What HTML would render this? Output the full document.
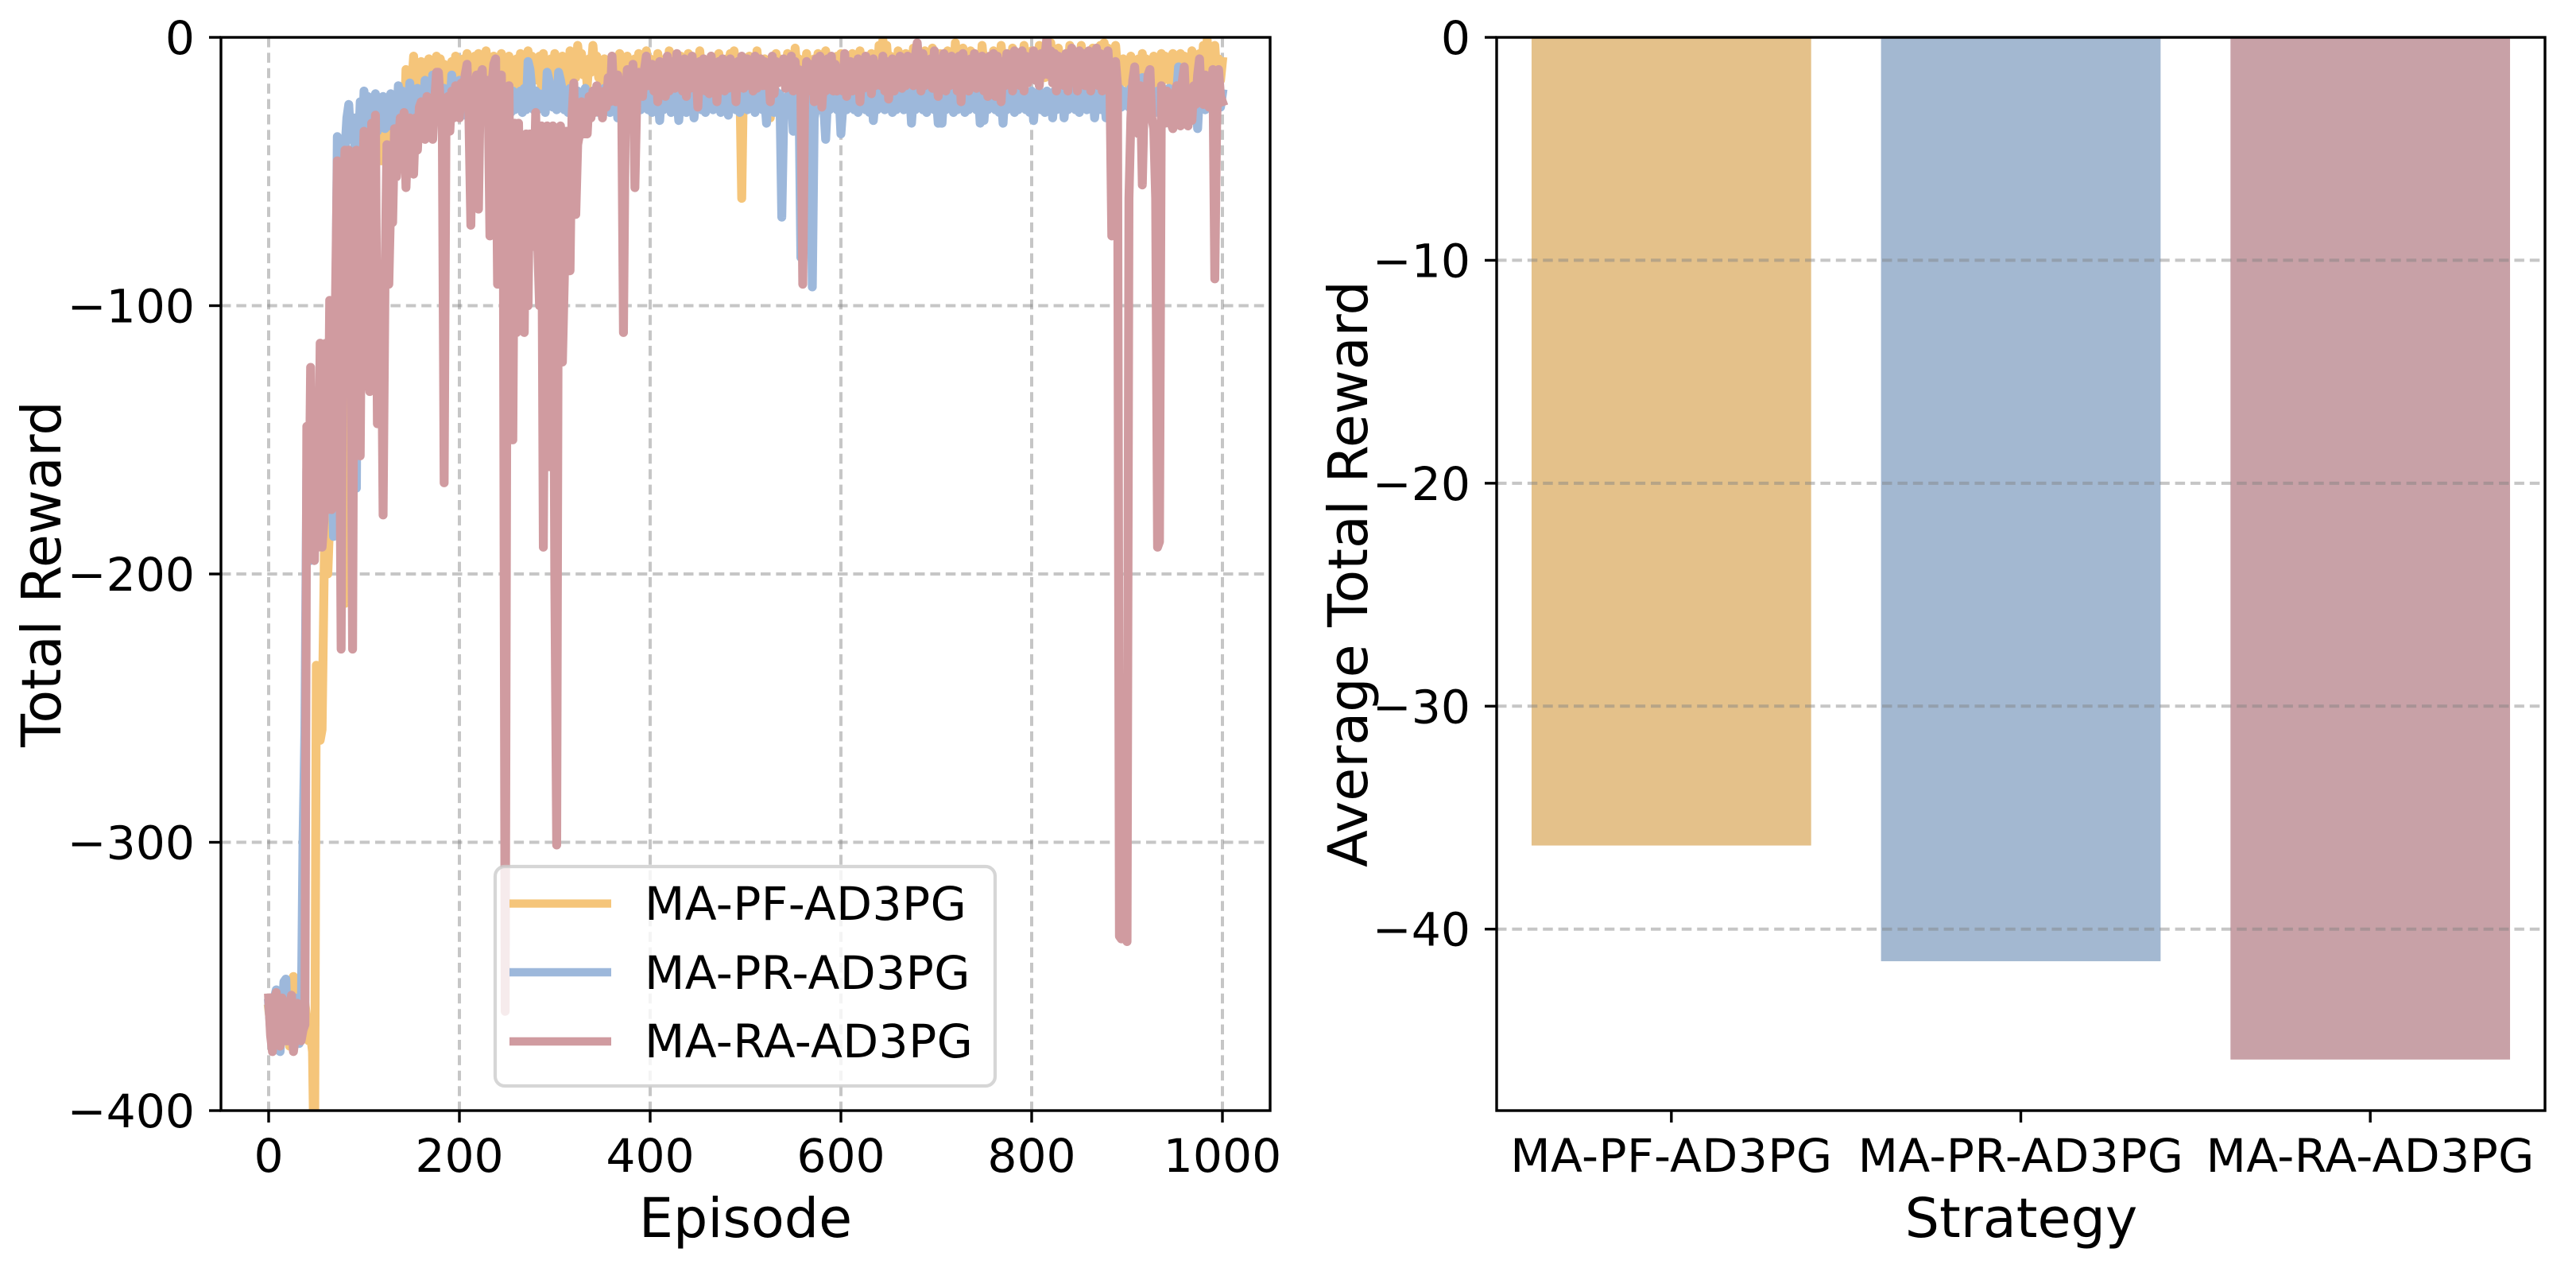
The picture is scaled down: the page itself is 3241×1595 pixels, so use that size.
<!DOCTYPE html>
<html lang="en">
<head>
<meta charset="utf-8">
<title>Total reward and average total reward by strategy</title>
<style>
html,body{margin:0;padding:0;background:#fff;}
svg{display:block;}
text{font-family:"DejaVu Sans","Liberation Sans",sans-serif;fill:#000;}
.tick{font-size:58.33px;}
.wide{letter-spacing:0.4px;}
.label{font-size:68.3px;}
</style>
</head>
<body>
<svg id="figure" xmlns="http://www.w3.org/2000/svg" width="3241" height="1595" viewBox="0 0 3241 1595">
  <defs>
    <clipPath id="clip-left"><rect x="278" y="47" width="1320" height="1350"/></clipPath>
  </defs>
  <rect x="0" y="0" width="3241" height="1595" fill="#fff"/>

  <g id="left-grid"></g>
  <g id="left-series" clip-path="url(#clip-left)"></g>
  <g id="left-ticks"></g>
  <rect x="278" y="47" width="1320" height="1350" fill="none" stroke="#000" stroke-width="3.4"/>
  <text class="label" x="938" y="1556" text-anchor="middle">Episode</text>
  <text class="label" x="0" y="0" text-anchor="middle" transform="translate(76 722) rotate(-90)">Total Reward</text>

  <g>
    <rect x="623" y="1090" width="629" height="276" rx="12" ry="12" fill="#fff" fill-opacity="0.8" stroke="#ccc" stroke-opacity="0.8" stroke-width="4.2"/>
    <line x1="641" x2="769" y1="1136.6" y2="1136.6" stroke="#F5C57A" stroke-width="10.4"/>
    <text class="tick wide" x="811" y="1157">MA-PF-AD3PG</text>
    <line x1="641" x2="769" y1="1223" y2="1223" stroke="#9DB8DB" stroke-width="10.4"/>
    <text class="tick wide" x="811" y="1244">MA-PR-AD3PG</text>
    <line x1="641" x2="769" y1="1310" y2="1310" stroke="#D09BA0" stroke-width="10.4"/>
    <text class="tick wide" x="811" y="1330">MA-RA-AD3PG</text>
  </g>

  <g id="right-bars"></g>
  <g id="right-grid"></g>
  <g id="right-ticks"></g>
  <rect x="1883" y="47" width="1319" height="1350" fill="none" stroke="#000" stroke-width="3.4"/>
  <text class="label" x="2543" y="1556" text-anchor="middle">Strategy</text>
  <text class="label" x="0" y="0" text-anchor="middle" transform="translate(1720 722) rotate(-90)">Average Total Reward</text>
</svg>

<script>
// Episode sampling for the reward curves: one value every 2 episodes.
const sampleStep = 2;
const episodeTicks = [0, 200, 400, 600, 800, 1000];
const rewardTicks = [0, -100, -200, -300, -400];
const averageTicks = [0, -10, -20, -30, -40];
const strategies = ['MA-PF-AD3PG', 'MA-PR-AD3PG', 'MA-RA-AD3PG'];
const averageRewards = [-36.25, -41.44, -45.85];

const pfRewards = [
-362,-368,-374,-358,-366,-376,-360,-356,-364,-372,-370,-376,-368,-350,-352,-363,-361,-372,-368,-360,
-366,-374,-372,-378,-430,-234,-236,-262,-258,-205,-150,-200,-180,-140,-170,-125,-165,-140,-110,-150,
-211,-80,-60,-130,-50,-110,-42,-90,-38,-70,-32,-55,-38,-50,-36,-48,-40,-45,-38,-46,
-34,-46,-38,-44,-32,-42,-30,-40,-34,-38,-28,-36,-12,-20,-14,-18,-7,-17,-12,-18,
-9,-17,-11,-15,-8,-16,-9,-18,-7,-15,-8,-17,-10,-16,-11,-18,-9,-15,-7,-14,
-10,-16,-8,-18,-6,-15,-9,-17,-7,-14,-6,-16,-10,-15,-5,-18,-9,-16,-7,-14,
-8,-17,-6,-15,-10,-18,-7,-16,-9,-20,-8,-15,-6,-17,-9,-14,-5,-18,-7,-15,
-10,-16,-7,-19,-6,-14,-9,-17,-8,-15,-6,-18,-10,-16,-7,-14,-9,-17,-5,-15,
-8,-15,-3,-10,-6,-14,-9,-18,-8,-13,-3,-12,-7,-15,-9,-20,-8,-17,-12,-19,
-7,-16,-9,-18,-6,-14,-9,-15,-7,-17,-10,-19,-8,-16,-6,-14,-9,-17,-5,-13,
-8,-16,-10,-15,-6,-14,-11,-18,-8,-15,-5,-13,-9,-17,-11,-14,-7,-16,-9,-15,
-6,-17,-8,-14,-10,-16,-5,-13,-8,-15,-11,-18,-7,-14,-9,-16,-6,-14,-10,-15,
-8,-17,-6,-13,-5,-14,-10,-16,-60,-12,-8,-15,-7,-17,-9,-14,-5,-13,-8,-16,
-8,-14,-10,-30,-9,-15,-6,-13,-8,-16,-10,-15,-6,-14,-9,-17,-4,-12,-8,-15,
-10,-17,-6,-13,-9,-15,-8,-18,-6,-14,-9,-16,-5,-13,-8,-15,-10,-16,-7,-14,
-6,-13,-9,-16,-7,-18,-6,-14,-9,-15,-5,-13,-8,-16,-10,-15,-6,-13,-9,-16,
-3,-10,-1,-8,-3,-13,-7,-15,-9,-14,-5,-12,-8,-15,-6,-13,-9,-15,-4,-12,
-7,-15,-10,-16,-5,-13,-8,-15,-4,-12,-9,-16,-6,-14,-8,-15,-5,-13,-9,-15,
-2,-11,-7,-15,-4,-12,-8,-14,-5,-15,-6,-13,-8,-15,-3,-11,-7,-13,-9,-16,
-5,-12,-8,-14,-3,-11,-6,-13,-9,-15,-4,-12,-8,-14,-6,-13,-3,-10,-8,-15,
-5,-12,-7,-14,-3,-11,-8,-15,-5,-13,-2,-10,-7,-14,-4,-12,-9,-15,-6,-13,
-3,-12,-5,-13,-7,-14,-3,-11,-8,-15,-6,-13,-4,-12,-7,-14,-3,-10,-2,-9,
-4,-11,-7,-14,-3,-12,-9,-17,-8,-15,-10,-18,-7,-14,-9,-16,-8,-15,-6,-17,
-8,-18,-10,-17,-7,-15,-9,-19,-6,-16,-7,-14,-9,-17,-6,-15,-8,-18,-6,-14,
-7,-16,-8,-18,-5,-13,-7,-15,-6,-14,-3,-10,-1,-12,-7,-15,-3,-14,-8,-16,
-9];

const prRewards = [
-360,-370,-376,-358,-355,-368,-378,-364,-352,-351,-372,-360,-366,-374,-358,-360,-375,-373,-300,-258,
-161,-175,-195,-170,-180,-150,-135,-170,-150,-140,-130,-140,-125,-150,-186,-120,-37,-70,-50,-40,
-42,-30,-25,-38,-36,-30,-168,-44,-24,-40,-20,-36,-22,-38,-26,-34,-21,-35,-24,-33,
-22,-34,-24,-33,-21,-32,-26,-34,-18,-30,-20,-32,-23,-33,-17,-28,-22,-31,-19,-29,
-24,-30,-16,-28,-22,-31,-14,-26,-20,-30,-24,-28,-19,-30,-22,-27,-14,-25,-20,-29,
-16,-26,-21,-29,-18,-27,-22,-28,-16,-26,-20,-29,-18,-27,-21,-28,-16,-26,-22,-29,
-20,-27,-22,-28,-19,-26,-21,-28,-20,-27,-22,-26,-20,-28,-19,-27,-9,-12,-20,-27,
-20,-27,-21,-26,-22,-28,-13,-16,-20,-26,-21,-27,-13,-16,-20,-27,-21,-28,-19,-26,
-21,-27,-20,-26,-22,-28,-19,-27,-21,-26,-20,-27,-22,-28,-20,-26,-19,-27,-21,-28,
-20,-26,-22,-30,-21,-27,-20,-26,-22,-28,-21,-27,-20,-26,-22,-27,-19,-26,-21,-27,
-22,-28,-20,-26,-21,-31,-20,-27,-22,-26,-21,-28,-20,-27,-22,-31,-20,-26,-21,-28,
-20,-27,-22,-30,-21,-26,-20,-27,-22,-28,-20,-26,-21,-27,-19,-26,-22,-28,-20,-27,
-21,-29,-20,-26,-22,-27,-21,-28,-20,-26,-21,-27,-20,-26,-21,-28,-13,-16,-20,-27,
-22,-32,-20,-27,-22,-28,-20,-26,-21,-67,-30,-28,-22,-26,-21,-35,-22,-27,-21,-82,
-30,-22,-28,-21,-27,-93,-30,-26,-22,-27,-21,-26,-38,-23,-27,-21,-26,-22,-27,-21,
-36,-26,-22,-27,-21,-26,-20,-27,-22,-28,-21,-26,-20,-27,-22,-28,-21,-31,-22,-27,
-20,-26,-21,-27,-20,-26,-22,-28,-19,-27,-21,-26,-20,-27,-21,-26,-20,-32,-21,-27,
-20,-26,-22,-27,-21,-28,-20,-26,-21,-27,-22,-32,-21,-32,-20,-27,-21,-26,-20,-28,
-20,-27,-21,-26,-22,-28,-20,-27,-21,-26,-22,-27,-20,-32,-21,-31,-20,-27,-21,-26,
-20,-27,-22,-28,-21,-32,-20,-27,-21,-26,-20,-28,-21,-27,-20,-26,-21,-27,-22,-28,
-20,-31,-21,-26,-20,-27,-21,-28,-20,-26,-21,-30,-20,-27,-21,-26,-20,-30,-21,-27,
-19,-26,-21,-27,-20,-28,-21,-26,-20,-27,-21,-26,-20,-30,-21,-27,-20,-27,-21,-30,
-20,-27,-21,-26,-20,-27,-19,-26,-20,-25,-21,-26,-19,-27,-20,-26,-21,-27,-15,-24,
-20,-27,-21,-26,-22,-28,-20,-26,-21,-27,-20,-26,-19,-25,-20,-27,-21,-11,-14,-25,
-20,-26,-21,-27,-20,-28,-21,-34,-20,-26,-21,-27,-19,-25,-20,-27,-20,-25,-19,-26,
-21];

const raRewards = [
-358,-372,-378,-360,-356,-370,-376,-358,-360,-374,-374,-362,-357,-378,-372,-360,-362,-374,-370,-368,
-145,-190,-123,-190,-195,-150,-190,-114,-190,-180,-114,-176,-98,-176,-150,-100,-46,-110,-228,-70,
-42,-80,-42,-100,-228,-50,-42,-140,-156,-60,-35,-130,-60,-132,-32,-120,-29,-144,-100,-90,
-178,-90,-40,-92,-60,-69,-34,-52,-40,-30,-48,-28,-56,-35,-30,-45,-51,-30,-42,-26,
-24,-36,-38,-22,-32,-25,-38,-24,-13,-13,-24,-28,-166,-26,-22,-35,-20,-30,-18,-28,
-30,-17,-24,-14,-10,-30,-70,-16,-30,-14,-64,-14,-12,-30,-20,-16,-74,-18,-10,-8,
-92,-20,-14,-60,-363,-90,-18,-100,-150,-32,-110,-32,-72,-100,-110,-36,-100,-36,-78,-60,
-28,-76,-100,-33,-190,-60,-33,-160,-100,-33,-200,-301,-40,-33,-121,-90,-35,-70,-87,-30,
-17,-66,-40,-36,-24,-36,-26,-36,-22,-30,-20,-28,-18,-26,-22,-30,-20,-26,-15,-24,
-7,-22,-24,-14,-20,-16,-110,-26,-12,-18,-24,-10,-56,-22,-13,-20,-22,-12,-7,-18,
-18,-10,-20,-12,-24,-9,-18,-11,-22,-7,-20,-14,-9,-19,-6,-16,-11,-20,-8,-22,
-10,-19,-7,-17,-12,-26,-9,-18,-8,-20,-12,-21,-7,-16,-10,-24,-9,-18,-8,-20,
-12,-19,-8,-18,-10,-24,-9,-16,-7,-19,-13,-8,-18,-10,-20,-7,-19,-13,-8,-18,
-9,-18,-12,-24,-7,-21,-9,-17,-10,-15,-8,-19,-11,-17,-7,-20,-9,-18,-12,-20,
-92,-22,-9,-18,-20,-10,-24,-8,-18,-7,-26,-14,-20,-8,-18,-7,-20,-10,-20,-12,
-12,-20,-6,-22,-16,-9,-20,-10,-18,-8,-24,-10,-19,-7,-18,-11,-21,-8,-18,-10,
-10,-18,-7,-20,-9,-23,-13,-8,-20,-10,-17,-7,-19,-9,-18,-7,-16,-10,-18,-7,
-2,-12,-20,-6,-18,-9,-15,-8,-19,-5,-14,-22,-8,-18,-6,-20,-10,-18,-7,-16,
-8,-20,-7,-24,-6,-14,-9,-20,-8,-16,-6,-19,-10,-18,-7,-20,-9,-22,-7,-15,
-6,-22,-7,-15,-24,-9,-18,-6,-14,-8,-20,-5,-16,-8,-18,-5,-20,-7,-17,-8,
-12,-5,-16,-7,-18,-6,-14,-7,0,-14,-5,-17,-6,-20,-7,-16,-8,-18,-6,-20,
-9,-4,-16,-8,-20,-5,-12,-6,-18,-9,-5,-20,-7,-16,-4,-18,-6,-20,-8,-14,
-5,-16,-74,-14,-9,-18,-335,-336,-330,-336,-337,-60,-30,-16,-11,-24,-36,-18,-55,-24,
-28,-14,-12,-30,-34,-60,-190,-188,-18,-30,-32,-20,-24,-32,-34,-22,-18,-30,-33,-16,
-11,-28,-33,-20,-31,-18,-25,-14,-8,-24,-25,-14,-18,-26,-22,-12,-90,-30,-12,-22,
-24];

const NS = 'http://www.w3.org/2000/svg';

// Axis functions, left panel
function xEpisode(e) { return 278 + (e + 50) / 1100 * 1320; }
function yReward(v) { return 47 + (-v) / 400 * 1350; }
// Axis functions, right panel
function xStrategy(i) { return 1883 + (i + 0.5) / 3 * 1319; }
function yAverage(v) { return 47 + (-v) / 48.14 * 1350; }

function make(tag, parentId, attrs) {
  const el = document.createElementNS(NS, tag);
  for (const k in attrs) el.setAttribute(k, attrs[k]);
  document.getElementById(parentId).appendChild(el);
  return el;
}

const gridStyle = { stroke: 'rgba(128,128,128,0.45)', 'stroke-width': 4, 'stroke-dasharray': '12.5 6.9' };

// Left panel grid and ticks
episodeTicks.forEach(function (e) {
  const x = xEpisode(e);
  const g = make('line', 'left-grid', Object.assign({ x1: x, x2: x, y1: 47, y2: 1397 }, gridStyle));
  
  
  const t = make('line', 'left-ticks', { x1: x, x2: x, y1: 1397, y2: 1412, stroke: '#000', 'stroke-width': 3.4 });
  
  
  const l = make('text', 'left-ticks', { x: x, y: 1474, 'text-anchor': 'middle', class: 'tick' });
  l.textContent = String(e);
  
  
});
rewardTicks.forEach(function (v) {
  const y = yReward(v);
  if (v !== 0 && v !== -400) {
    const g = make('line', 'left-grid', Object.assign({ x1: 278, x2: 1598, y1: y, y2: y }, gridStyle));
    
    
  }
  const t = make('line', 'left-ticks', { x1: 263, x2: 278, y1: y, y2: y, stroke: '#000', 'stroke-width': 3.4 });
  
  
  const l = make('text', 'left-ticks', { x: 245, y: y + 21, 'text-anchor': 'end', class: 'tick' });
  l.textContent = String(v).replace('-', '\u2212');
  
  
});

// Left panel curves
function curvePoints(values) {
  return values.map(function (v, i) {
    return xEpisode(i * sampleStep).toFixed(1) + ',' + yReward(v).toFixed(1);
  }).join(' ');
}
const linePf = make('polyline', 'left-series', { points: curvePoints(pfRewards), fill: 'none', stroke: '#F5C57A', 'stroke-width': 11.2, 'stroke-linejoin': 'round', 'stroke-linecap': 'square' });


const linePr = make('polyline', 'left-series', { points: curvePoints(prRewards), fill: 'none', stroke: '#9DB8DB', 'stroke-width': 11.2, 'stroke-linejoin': 'round', 'stroke-linecap': 'square' });


const lineRa = make('polyline', 'left-series', { points: curvePoints(raRewards), fill: 'none', stroke: '#D09BA0', 'stroke-width': 11.2, 'stroke-linejoin': 'round', 'stroke-linecap': 'square' });



// Right panel bars
const barColors = ['#E4C18A', '#A3B8D1', '#C8A1A7'];
const barUnits = 0.8;
averageRewards.forEach(function (v, i) {
  const half = barUnits / 2 / 3 * 1319;
  const b = make('rect', 'right-bars', { x: xStrategy(i) - half, y: yAverage(0), width: half * 2, height: yAverage(v) - yAverage(0), fill: barColors[i] });
  
  
});
strategies.forEach(function (s, i) {
  const x = xStrategy(i);
  const t = make('line', 'right-ticks', { x1: x, x2: x, y1: 1397, y2: 1412, stroke: '#000', 'stroke-width': 3.4 });
  
  
  const l = make('text', 'right-ticks', { x: x, y: 1474, 'text-anchor': 'middle', class: 'tick wide' });
  l.textContent = s;
  
  
});
averageTicks.forEach(function (v) {
  const y = yAverage(v);
  if (v !== 0) {
    const g = make('line', 'right-grid', Object.assign({ x1: 1883, x2: 3202, y1: y, y2: y }, gridStyle));
    
    
  }
  const t = make('line', 'right-ticks', { x1: 1868, x2: 1883, y1: y, y2: y, stroke: '#000', 'stroke-width': 3.4 });
  
  
  const l = make('text', 'right-ticks', { x: 1850, y: y + 21, 'text-anchor': 'end', class: 'tick' });
  l.textContent = String(v).replace('-', '\u2212');
  
  
});
</script>
</body>
</html>
